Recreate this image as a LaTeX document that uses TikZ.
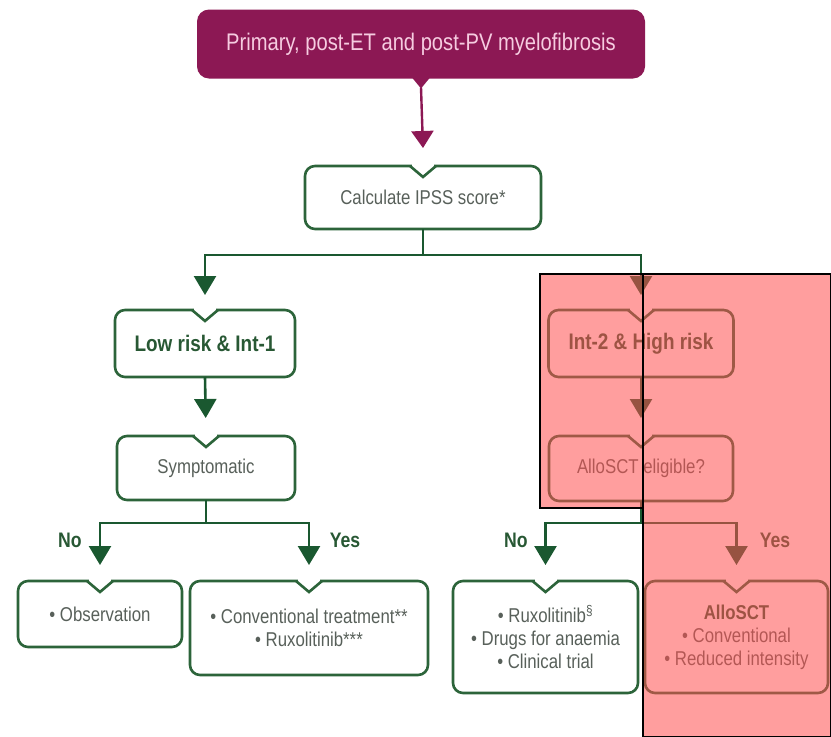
\documentclass[tikz,border=0pt]{standalone}
\usepackage{fontspec}
\setmainfont[FakeStretch=0.84]{Liberation Sans}
\usetikzlibrary{arrows.meta}
\definecolor{mfpurple}{RGB}{140,24,84}
\definecolor{mfpink}{RGB}{246,204,224}
\definecolor{gborder}{RGB}{44,100,58}
\definecolor{garrowc}{RGB}{26,88,48}
\definecolor{gtext}{RGB}{40,88,52}
\definecolor{txtgray}{RGB}{88,96,90}
\definecolor{overlayred}{RGB}{255,80,80}
\newcommand\mfnotch[1]{%
  \fill[white] ([xshift=-11pt,yshift=-1.7pt]#1.north) rectangle ([xshift=11pt,yshift=1.7pt]#1.north);
  \draw[gborder,line width=2.6pt,line join=miter] ([xshift=-13pt]#1.north) -- ([yshift=-11pt]#1.north) -- ([xshift=13pt]#1.north);}
\begin{document}
\begin{tikzpicture}[x=1pt,y=-1pt,
  gbox/.style={draw=gborder,line width=2.6pt,rounded corners=10pt,fill=white,align=center,
    inner sep=0pt,outer sep=0pt,text=txtgray,font=\fontsize{20}{23}\selectfont},
  gboxbold/.style={gbox,text=gtext,font=\bfseries\fontsize{22.5}{24}\selectfont},
  topbox/.style={fill=mfpurple,rounded corners=12pt,inner sep=0pt,outer sep=0pt,
    text=mfpink,font=\fontsize{24}{26}\selectfont},
  garr/.style={draw=garrowc,line width=2.6pt,-{Triangle[width=22pt,length=19pt]}},
  parr/.style={draw=mfpurple,line width=2.4pt,-{Triangle[width=22pt,length=17pt]}},
  lbl/.style={text=gtext,font=\bfseries\fontsize{21}{22}\selectfont,inner sep=0pt},
  redmask/.style={draw=black,line width=1.2pt,fill=overlayred,fill opacity=0.55}
]
\useasboundingbox[fill=white] (0,0) rectangle (831,737);

% boxes
\node[topbox,minimum width=448pt,minimum height=69pt] (top) at (421,44) {Primary, post-ET and post-PV myelofibrosis};
\fill[mfpurple] ([xshift=-9pt,yshift=1pt]top.south) -- ([xshift=9pt,yshift=1pt]top.south) -- ([yshift=-10pt]top.south) -- cycle;

\node[gbox,minimum width=236pt,minimum height=63pt] (ipss) at (423,197.5) {Calculate IPSS score*};
\node[gboxbold,minimum width=180pt,minimum height=67pt] (low) at (205,343.5) {Low risk \& Int-1};
\node[gboxbold,minimum width=185pt,minimum height=67pt] (int2) at (641,343.5) {Int-2 \& High risk};
\node[gbox,minimum width=178pt,minimum height=64pt] (symp) at (206,468) {Symptomatic};
\node[gbox,minimum width=184pt,minimum height=65pt] (elig) at (641,468.5) {AlloSCT eligible?};
\node[gbox,minimum width=164pt,minimum height=66pt] (obs) at (100,614) {• Observation};
\node[gbox,minimum width=238pt,minimum height=94pt] (conv) at (309,628) {• Conventional treatment**\\• Ruxolitinib***};
\node[gbox,minimum width=185pt,minimum height=112pt] (rux) at (545.5,637) {• Ruxolitinib\textsuperscript{§}\\• Drugs for anaemia\\• Clinical trial};
\node[gbox,minimum width=183pt,minimum height=112pt] (allo) at (736.5,637) {{\bfseries\color{gtext}AlloSCT}\\• Conventional\\• Reduced intensity};

\foreach \n in {ipss,low,int2,symp,elig,obs,conv,rux,allo}{\mfnotch{\n}}

% connectors
\draw[parr] ([yshift=-9pt]top.south) -- ([yshift=18pt]ipss.north);
\draw[garr,shorten >=15pt] (ipss.south) -- ++(0,26) -| (low.north);
\draw[garr,shorten >=15pt] (ipss.south) -- ++(0,26) -| (int2.north);
\draw[garr,shorten >=18pt] (low.south) -- (symp.north);
\draw[garr,shorten >=18pt] (int2.south) -- (elig.north);
\draw[garr,shorten >=16pt] (symp.south) -- ++(0,23) -| (obs.north);
\draw[garr,shorten >=16pt] (symp.south) -- ++(0,23) -| (conv.north);
\draw[garr,shorten >=16pt] (elig.south) -- ++(0,22) -| (rux.north);
\draw[garr,shorten >=16pt] (elig.south) -- ++(0,22) -| (allo.north);

% labels
\node[lbl] (no1) at (70,540) {No};
\node[lbl] (yes1) at (345,540) {Yes};
\node[lbl] (no2) at (516,540) {No};
\node[lbl] (yes2) at (775,540) {Yes};

% red masks
\path[redmask] (540,274) rectangle (643,508);
\path[redmask] (643,274) rectangle (831,737);
\end{tikzpicture}
\end{document}
